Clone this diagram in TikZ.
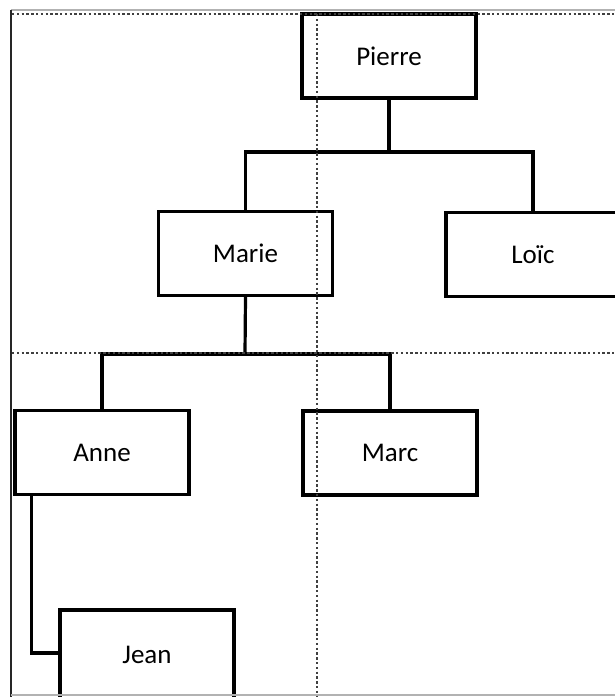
\documentclass[tikz,border=0pt]{standalone}
\usepackage{fontspec}
\setmainfont{Carlito}
\begin{document}
\begin{tikzpicture}[x=0.5pt,y=-0.5pt,
  person/.style={draw=black,line width=1.6pt,fill=white,minimum width=87pt,minimum height=42pt,inner sep=0pt,font=\fontsize{13.5}{16}\selectfont,text=black},
  link/.style={draw=black,line width=1.6pt},
  pagebreak/.style={draw=black!75,line width=0.8pt,dash pattern=on 1.2pt off 1.2pt},
  framelight/.style={draw=black!30,line width=1pt},
  framedark/.style={draw=black!85,line width=0.6pt}]
\useasboundingbox (0,0) rectangle (615,697);
\fill[white] (0,0) rectangle (615,697);
% frame
\coordinate (ftl) at (11,10);
\coordinate (ftr) at (615,10);
\coordinate (fbl) at (11,697);
\coordinate (bbl) at (11,695);
\coordinate (bbr) at (615,695);
\draw[framelight] (ftl) -- (ftr);
\draw[framedark] (ftl) -- (fbl);
% people
\node[person] (P) at (389,56) {Pierre};
\node[person] (M) at (245.5,253.5) {Marie};
\node[person] (L) at (533,254.5) {Loïc};
\node[person] (A) at (102,452.5) {Anne};
\node[person] (C) at (390,453) {Marc};
\node[person,minimum height=50pt] (J) at (147,660) {\raisebox{5pt}{Jean}};
% buses
\coordinate (b1) at (389,152);
\coordinate (b2) at (245,354);
\coordinate (aj) at ([xshift=9pt]A.south west);
\coordinate (jl) at ([yshift=3.5pt]J.west);
\draw[link] (P.south) -- (b1);
\draw[link] (M.north) |- (b1) -| (L.north);
\draw[link] (M.south) -- (b2);
\draw[link] (A.north) |- (b2) -| (C.north);
\draw[link] (aj) |- (jl);
\draw[framelight] (bbl) -- (bbr);
% page breaks
\coordinate (h1a) at (12,14);
\coordinate (h1b) at (615,14);
\coordinate (h2a) at (12,353);
\coordinate (h2b) at (615,353);
\coordinate (v1a) at (317,14);
\coordinate (v1b) at (317,697);
\draw[pagebreak] (h1a) -- (h1b);
\draw[pagebreak] (h2a) -- (h2b);
\draw[pagebreak] (v1a) -- (v1b);
\end{tikzpicture}
\end{document}
